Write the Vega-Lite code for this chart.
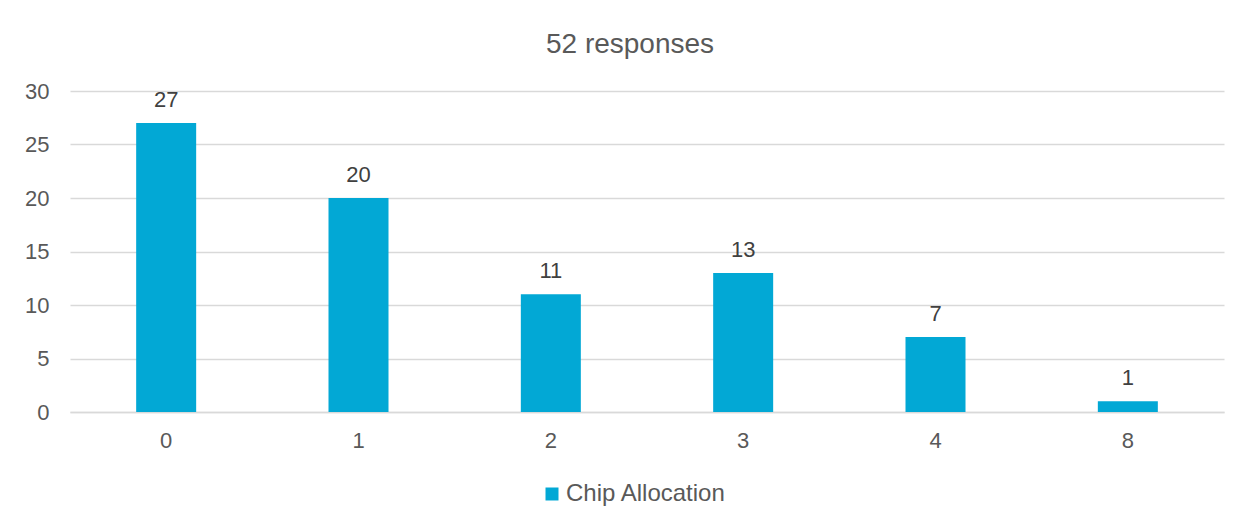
{
  "$schema": "https://vega.github.io/schema/vega-lite/v6.json",
  "autosize": "none",
  "width": 1154,
  "height": 321,
  "padding": {"left": 70, "top": 91, "right": 22, "bottom": 115},
  "background": "white",
  "config": {"view": {"stroke": null}},
  "title": {
    "text": "52 responses",
    "font": "Liberation Sans",
    "fontSize": 28,
    "fontWeight": "normal",
    "color": "#595959",
    "anchor": "middle",
    "frame": "group",
    "baseline": "alphabetic",
    "dx": -17,
    "offset": -1
  },
  "data": {
    "values": [
      {"chips": "0", "count": 27, "series": "Chip Allocation"},
      {"chips": "1", "count": 20, "series": "Chip Allocation"},
      {"chips": "2", "count": 11, "series": "Chip Allocation"},
      {"chips": "3", "count": 13, "series": "Chip Allocation"},
      {"chips": "4", "count": 7, "series": "Chip Allocation"},
      {"chips": "8", "count": 1, "series": "Chip Allocation"}
    ]
  },
  "encoding": {
    "x": {
      "field": "chips",
      "type": "nominal",
      "sort": null,
      "title": null,
      "scale": {"paddingInner": 0, "paddingOuter": 0},
      "axis": {
        "labelAngle": 0,
        "labelFont": "Liberation Sans",
        "labelFontSize": 22,
        "labelColor": "#595959",
        "labelPadding": 18,
        "ticks": false,
        "domainColor": "#D9D9D9",
        "domainWidth": 1.3
      }
    },
    "y": {
      "field": "count",
      "type": "quantitative",
      "title": null,
      "scale": {"domain": [0, 30], "nice": false},
      "axis": {
        "values": [0, 5, 10, 15, 20, 25, 30],
        "labelFont": "Liberation Sans",
        "labelFontSize": 22,
        "labelColor": "#595959",
        "labelPadding": 21,
        "ticks": false,
        "domain": false,
        "gridColor": "#D9D9D9",
        "gridWidth": 1.3
      }
    }
  },
  "layer": [
    {
      "mark": {"type": "bar", "size": 60},
      "encoding": {
        "color": {
          "field": "series",
          "type": "nominal",
          "scale": {"range": ["#02A8D5"]},
          "legend": {
            "title": null,
            "orient": "none",
            "legendX": 470,
            "legendY": 391,
            "padding": 0,
            "symbolType": "square",
            "symbolSize": 169,
            "symbolStrokeWidth": 0,
            "labelFont": "Liberation Sans",
            "labelFontSize": 24,
            "labelLimit": 400,
            "labelColor": "#595959",
            "labelOffset": 2
          }
        }
      }
    },
    {
      "mark": {
        "type": "text",
        "font": "Liberation Sans",
        "fontSize": 22,
        "color": "#404040",
        "baseline": "alphabetic",
        "dy": -16
      },
      "encoding": {
        "text": {"field": "count", "type": "quantitative"}
      }
    }
  ]
}
